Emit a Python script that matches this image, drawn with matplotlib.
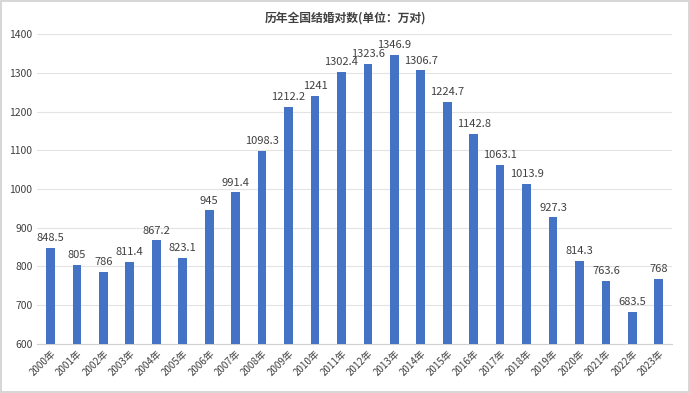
import numpy as np
import matplotlib.pyplot as plt

plt.rcParams['font.family'] = ['Noto Sans CJK SC', 'DejaVu Sans']

years = [f'{y}年' for y in range(2000, 2024)]
marriages = [848.5, 805, 786, 811.4, 867.2, 823.1, 945, 991.4, 1098.3, 1212.2,
             1241, 1302.4, 1323.6, 1346.9, 1306.7, 1224.7, 1142.8, 1063.1,
             1013.9, 927.3, 814.3, 763.6, 683.5, 768]
value_labels = ['848.5', '805', '786', '811.4', '867.2', '823.1', '945', '991.4',
                '1098.3', '1212.2', '1241', '1302.4', '1323.6', '1346.9', '1306.7',
                '1224.7', '1142.8', '1063.1', '1013.9', '927.3', '814.3', '763.6',
                '683.5', '768']

fig = plt.figure(figsize=(6.9, 3.93), dpi=100)
fig.patches.append(plt.Rectangle((0.002, 0.003), 0.996, 0.994, transform=fig.transFigure,
                                 fill=False, edgecolor='#d0d0d0', linewidth=1.2))
ax = fig.add_axes([0.054, 0.125, 0.92, 0.788])

x = np.arange(len(years))
ax.bar(x, marriages, width=0.33, color='#4472C4', zorder=3)
for xi, v, lab in zip(x, marriages, value_labels):
    ax.text(xi, v + 12, lab, ha='center', va='bottom', fontsize=8, color='#404040')

ax.set_ylim(600, 1400)
ax.set_yticks(range(600, 1401, 100))
ax.set_xlim(-0.5, len(years) - 0.5)
ax.set_xticks(x)
ax.set_xticklabels(years, rotation=45, ha='right', rotation_mode='anchor', fontsize=7)
ax.tick_params(axis='y', labelsize=7.5, colors='#404040', length=0)
ax.tick_params(axis='x', colors='#404040', length=0, pad=3)
ax.grid(axis='y', color='#e3e3e3', linewidth=0.8, zorder=0)
for s in ['top', 'right', 'left']:
    ax.spines[s].set_visible(False)
ax.spines['bottom'].set_color('#d0d0d0')

fig.text(0.5, 0.955, '历年全国结婚对数(单位：万对)', ha='center', va='center',
         fontsize=8.5, color='#404040', fontweight='bold')

fig.savefig('out.png', dpi=100)
